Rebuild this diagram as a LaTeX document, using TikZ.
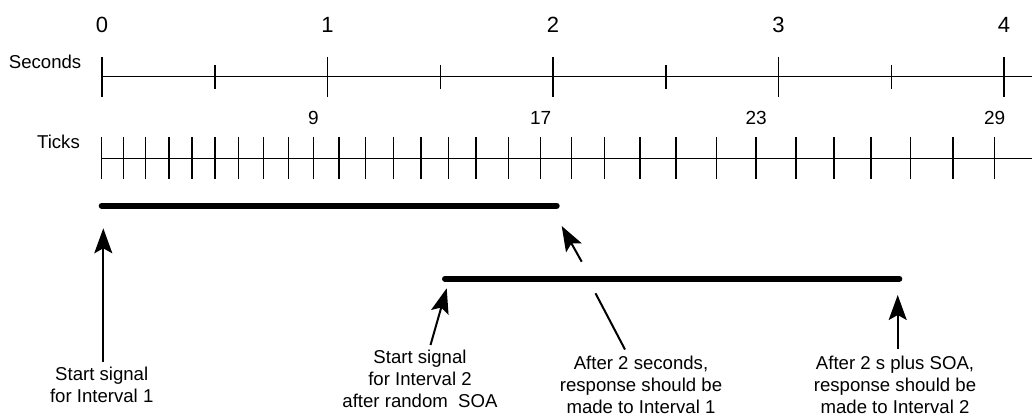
\documentclass[tikz,border=0pt]{standalone}
\usepackage{fontspec}
\setmainfont{Liberation Sans}
\usetikzlibrary{arrows.meta}
\begin{document}
\begin{tikzpicture}[x=1pt,y=-1pt,
  axisline/.style={line width=1.4pt},
  majortick/.style={line width=1.5pt},
  bar/.style={line width=6pt,line cap=round},
  pointer/.style={line width=2pt,-{Stealth[length=25pt,width=18pt,inset=5pt]}},
  plainline/.style={line width=2pt},
  seclabel/.style={font=\fontsize{22}{26}\selectfont,inner sep=0pt},
  ticklabel/.style={font=\fontsize{19}{23}\selectfont,inner sep=0pt},
  axlabel/.style={font=\fontsize{18.6}{22.5}\selectfont,inner sep=0pt,anchor=east},
  caption/.style={font=\fontsize{18.6}{22}\selectfont,inner sep=0pt,align=center,anchor=north}]
\useasboundingbox (0,0) rectangle (1032,417);

% Seconds axis
\node[axlabel] (seclab) at (81.5,62) {Seconds};
\coordinate (s0) at (102,76.7);
\coordinate (send) at (1032,76.7);
\draw[axisline] (s0) -- (send);
\foreach \x/\lab in {102/0,327.5/1,553/2,778.5/3,1004/4}{
  \draw[majortick] (\x,57) -- (\x,97);
  \node[seclabel] (sec\lab) at (\x,25) {\lab};
}
\foreach \x in {214.75,440.25,665.75,891.25}{
  \draw[majortick] (\x,65) -- (\x,89);
}

% Ticks axis
\node[axlabel] (ticklab) at (80,142) {Ticks};
\coordinate (t0) at (101.7,158.3);
\coordinate (tend) at (1032,158.3);
\draw[axisline] (t0) -- (tend);
\foreach \x in {101.7,123.3,145.7,169,192,215,238.3,263.3,288.3,313.3,339,365.7,393.3,421,448.3,476,508.5,540.7,571.3,604.5,639.8,675.8,716.5,756.2,795.9,834.2,870.9,910.6,953,994.7}{
  \draw[majortick] (\x,137) -- (\x,179);
}
\node[ticklabel] (t9) at (313.3,118) {9};
\node[ticklabel] (t17) at (540.7,118) {17};
\node[ticklabel] (t23) at (756.2,118) {23};
\node[ticklabel] (t29) at (994.7,118) {29};

% Interval bars
\coordinate (b1s) at (101.7,205.7);
\coordinate (b1e) at (556.7,205.7);
\coordinate (b2s) at (445,278.7);
\coordinate (b2e) at (899.3,278.7);
\draw[bar] (b1s) -- (b1e);
\draw[bar] (b2s) -- (b2e);

% Captions
\node[caption] (c1) at (101.7,366.5) {Start signal\\for Interval 1};
\node[caption] (c2) at (420,349.5) {Start signal\\for Interval 2\\after random~ SOA};
\node[caption] (c3) at (641,355.5) {After 2 seconds,\\response should be\\made to Interval 1};
\node[caption] (c4) at (895,355.5) {After 2 s plus SOA,\\response should be\\made to Interval 2};

% Pointers
\coordinate (a1t) at (103.3,361.7);
\coordinate (a1h) at (103.3,228.3);
\draw[pointer] (a1t) -- (a1h);

\coordinate (a2t) at (581.7,261.7);
\coordinate (a2h) at (561.7,226);
\draw[pointer] (a2t) -- (a2h);

\coordinate (a3t) at (430.5,345);
\coordinate (a3h) at (446.7,288.3);
\draw[pointer] (a3t) -- (a3h);

\coordinate (l4t) at (625,349.5);
\coordinate (l4h) at (595.5,293.3);
\draw[plainline] (l4t) -- (l4h);

\coordinate (a5t) at (897.7,349.3);
\coordinate (a5h) at (897.7,295);
\draw[pointer] (a5t) -- (a5h);
\end{tikzpicture}
\end{document}
